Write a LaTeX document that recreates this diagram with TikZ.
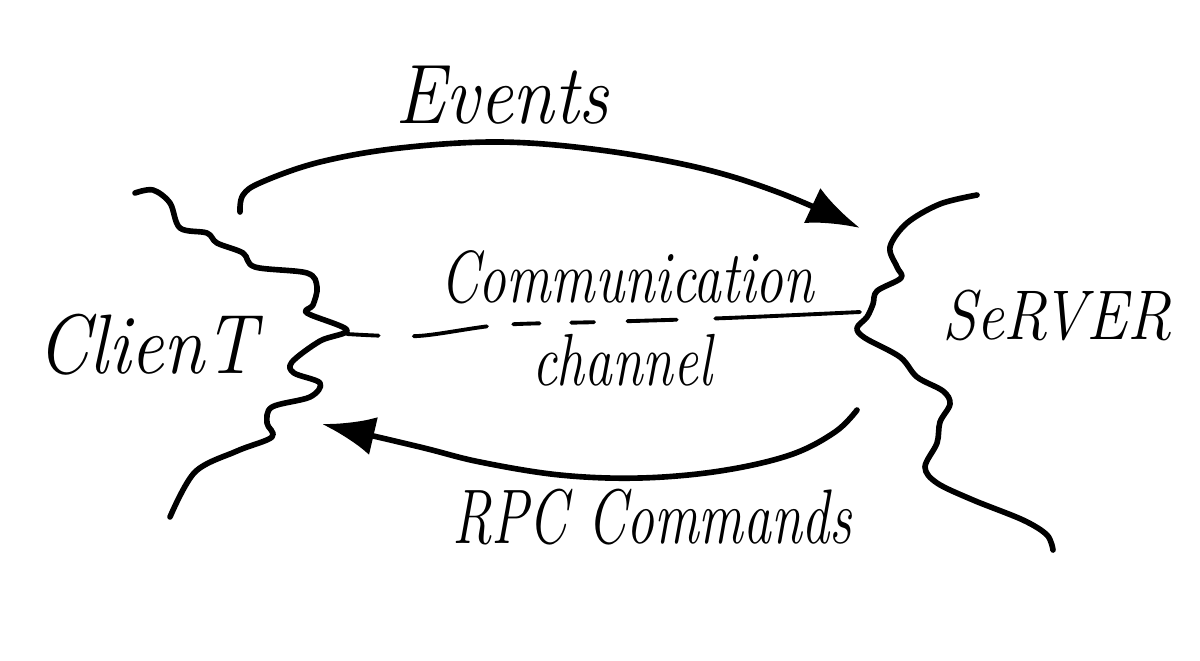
\documentclass[tikz,border=0pt]{standalone}
\usetikzlibrary{arrows.meta}
\begin{document}
\begin{tikzpicture}[x=0.01cm,y=-0.01cm,
  stroke/.style={line width=1.6pt,line cap=round,line join=round,black},
  harrow/.style={stroke,-{Latex[length=15pt,width=11pt]}},
  lbl/.style={font=\fontsize{#1}{#1}\selectfont\itshape,inner sep=0pt},
  chan/.style={line width=1.1pt,line cap=round,
    dash pattern=on 9pt off 10pt on 21pt off 7.5pt on 7.5pt off 9pt on 6.5pt off 9.5pt on 14pt off 11pt on 60pt}]
\useasboundingbox (0,0) rectangle (1200,660);
\fill[white] (0,0) rectangle (1200,660);

% labels
\node[lbl=24,xscale=0.89] (events) at (502,95) {Events};
\node[lbl=24,xscale=0.88] (client) at (147,345) {ClienT};
\node[lbl=20,xscale=0.88] (server) at (1057,315) {SeRVER};
\node[lbl=21,xscale=0.75] (comm) at (627,277) {Communication};
\node[lbl=21,xscale=0.75] (chnl) at (622,360) {channel};
\node[lbl=22,xscale=0.72] (rpc) at (652,517) {RPC Commands};

% client boundary
\draw[stroke] plot[smooth,tension=0.55] coordinates {
  (135,193) (153,190) (170,203) (180,228) (207,233) (217,243) (243,253)
  (255,267) (307,273) (317,287) (313,305) (307,313) (347,330)
  (320,341) (292,362) (294,373) (320,383) (310,397) (272,407)
  (267,423) (272,437) (237,451) (195,472) (170,517)};

% server boundary
\draw[stroke] plot[smooth,tension=0.55] coordinates {
  (977,195) (940,204) (907,223) (890,247) (897,267) (901,278) (877,291)
  (873,304) (867,317) (857,328) (865,338) (900,357) (917,377) (943,391)
  (950,404) (940,422) (937,443) (925,467) (937,483) (973,500) (1023,520)
  (1047,535) (1053,550)};

% communication channel
\coordinate (chA) at (347,334);
\coordinate (chB) at (860,312);
\draw[chan] plot[smooth,tension=0.5] coordinates {(chA) (418,336) (500,325) (600,322) (727,318) (chB)};

% events arrow
\coordinate (evA) at (240,212);
\coordinate (evB) at (860,228);
\draw[harrow] plot[smooth,tension=0.6] coordinates {(evA) (243,195) (262,182) (320,162) (400,148) (500,142) (600,150) (700,168) (780,193) (evB)};

% rpc arrow
\coordinate (rpA) at (857,410);
\coordinate (rpB) at (322,424);
\draw[harrow] plot[smooth,tension=0.6] coordinates {(rpA) (835,432) (790,455) (720,471) (640,478) (560,475) (480,462) (420,447) (rpB)};
\end{tikzpicture}
\end{document}
